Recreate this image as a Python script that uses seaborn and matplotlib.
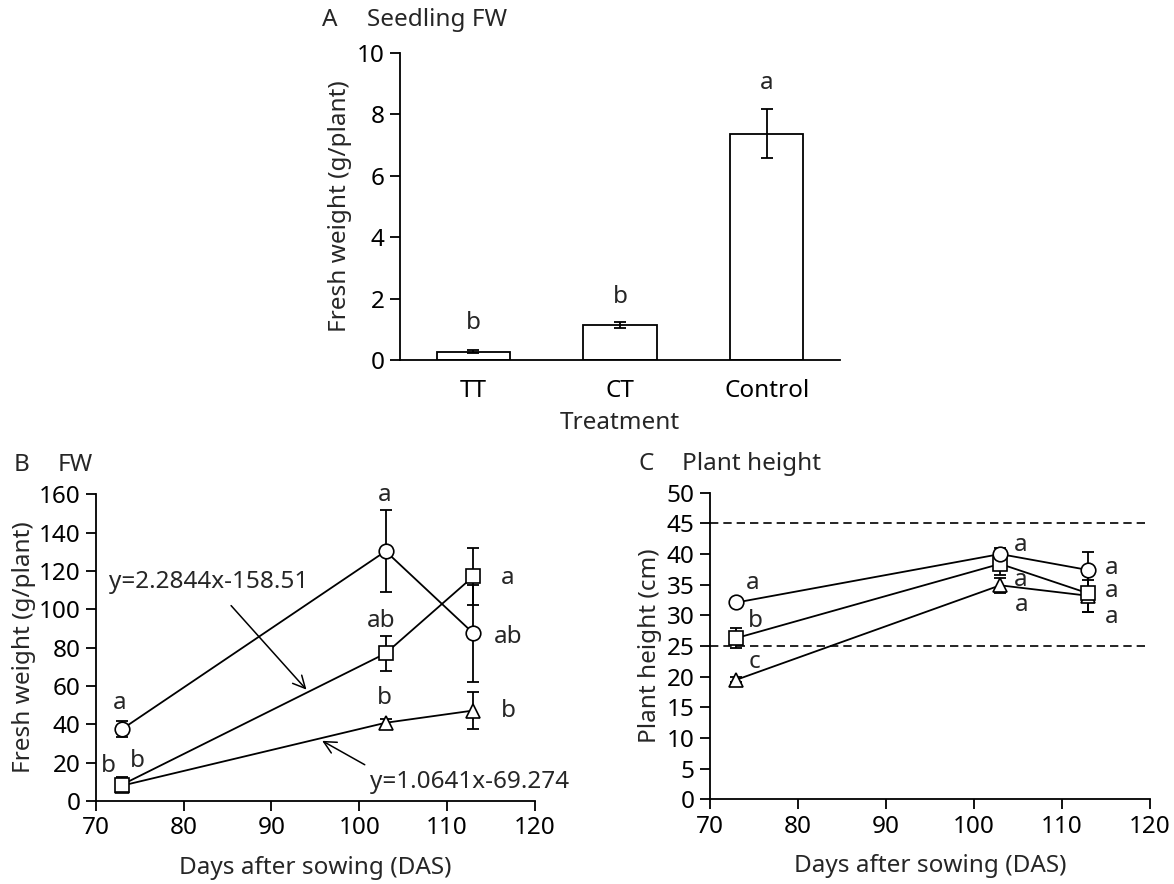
import seaborn as sns
import matplotlib.pyplot as plt
import numpy as np
import pandas as pd

# Panel A : seedling fresh weight
treatments = ['TT', 'CT', 'Control']
fw_seedling = [0.27, 1.14, 7.37]
fw_seedling_err = [0.04, 0.10, 0.80]
fw_seedling_letters = ['b', 'b', 'a']
fw_seedling_letter_y = [1.19, 2.06, 9.0]

# Panel B / C : three series over days after sowing
das = [73, 103, 113]
fw_circle = [37.5, 130.3, 87.4]
fw_circle_err = [4.0, 21.5, 25.5]
fw_square = [8.5, 77.0, 117.2]
fw_square_err = [4.0, 9.3, 15.0]
fw_triangle = [8.0, 40.8, 47.2]
fw_triangle_err = [2.0, 2.0, 9.5]

ht_circle = [32.1, 40.0, 37.4]
ht_circle_err = [0.5, 1.0, 2.9]
ht_square = [26.3, 38.4, 33.6]
ht_square_err = [1.7, 1.8, 3.0]
ht_triangle = [19.5, 34.9, 33.2]
ht_triangle_err = [0.4, 1.2, 2.6]

# lettres de significativité (x, y, texte)
fw_letters = [(72.7, 51, 'a'), (71.4, 18, 'b'), (74.7, 21, 'b'),
              (102.9, 159.5, 'a'), (102.5, 94, 'ab'), (102.9, 53.5, 'b'),
              (116.9, 116.5, 'a'), (117.0, 85.6, 'ab'), (117.0, 46.9, 'b')]
ht_letters = [(74.9, 35.2, 'a'), (75.2, 29.1, 'b'), (75.1, 22.4, 'c'),
              (105.3, 41.5, 'a'), (105.3, 35.8, 'a'), (105.4, 31.7, 'a'),
              (115.7, 37.8, 'a'), (115.7, 33.9, 'a'), (115.7, 29.8, 'a')]

sns.set_style('ticks')
plt.rcParams['font.family'] = ['Noto Sans', 'DejaVu Sans']
FS = 17.5
LW = 1.3

fig = plt.figure(figsize=(11.74, 8.84), dpi=100)
ax_a = fig.add_axes([0.3407, 0.5928, 0.3748, 0.3476])
ax_b = fig.add_axes([0.0815, 0.0939, 0.3742, 0.3470])
ax_c = fig.add_axes([0.6048, 0.0958, 0.3744, 0.3468])


def style_axes(ax):
    sns.despine(ax=ax)
    for s in ['left', 'bottom']:
        ax.spines[s].set_linewidth(LW)
        ax.spines[s].set_color('black')
    ax.tick_params(direction='out', length=7, width=LW, labelsize=FS,
                   colors='black', pad=4)


# ---- A
df_a = pd.DataFrame({'Treatment': treatments, 'FW': fw_seedling})
sns.barplot(data=df_a, x='Treatment', y='FW', color='white', saturation=1,
            edgecolor='black', linewidth=LW, width=0.5, errorbar=None, ax=ax_a)
ax_a.errorbar(np.arange(len(treatments)), fw_seedling, yerr=fw_seedling_err,
              fmt='none', ecolor='black', elinewidth=LW, capsize=4, capthick=LW)
for i, l in enumerate(fw_seedling_letters):
    ax_a.text(i, fw_seedling_letter_y[i], l, ha='center', va='center', fontsize=FS)
ax_a.set_xlim(-0.5, 2.5)
ax_a.set_ylim(0, 10)
ax_a.set_yticks([0, 2, 4, 6, 8, 10])
ax_a.set_xlabel('Treatment', fontsize=FS)
ax_a.set_ylabel('Fresh weight (g/plant)', fontsize=FS)
style_axes(ax_a)
ax_a.tick_params(axis='x', length=0, pad=14)
ax_a.xaxis.set_label_coords(0.5, -0.165)
ax_a.yaxis.set_label_coords(-0.109, 0.5)


def draw_series(ax, ys, errs):
    # triangle d'abord, cercle en dernier (au-dessus)
    markers = ['o', 's', '^']
    for y, e, m in list(zip(ys, errs, markers))[::-1]:
        ax.errorbar(das, y, yerr=e, fmt='none', ecolor='black', elinewidth=LW,
                    capsize=4, capthick=LW, zorder=2)
        sns.lineplot(x=das, y=y, marker=m, markersize=10.5, color='black',
                     markerfacecolor='white', markeredgecolor='black',
                     markeredgewidth=1.2, linewidth=LW, ax=ax, zorder=3)


# ---- B
draw_series(ax_b, [fw_circle, fw_square, fw_triangle],
            [fw_circle_err, fw_square_err, fw_triangle_err])
for x, y, t in fw_letters:
    ax_b.text(x, y, t, ha='center', va='center', fontsize=FS)
ax_b.text(82.9, 114.3, 'y=2.2844x-158.51', ha='center', va='center', fontsize=FS)
ax_b.text(112.5, 10, 'y=1.0641x-69.274', ha='center', va='center', fontsize=FS)
ax_b.annotate('', xy=(94.2, 57), xytext=(85.2, 103),
              arrowprops=dict(arrowstyle='->', color='black', lw=1.1,
                              mutation_scale=22))
ax_b.annotate('', xy=(95.5, 32.1), xytext=(100.9, 18.2),
              arrowprops=dict(arrowstyle='->', color='black', lw=1.1,
                              mutation_scale=22))
ax_b.set_xlim(70, 120)
ax_b.set_ylim(0, 160)
ax_b.set_xticks(range(70, 121, 10))
ax_b.set_yticks(range(0, 161, 20))
ax_b.set_xlabel('Days after sowing (DAS)', fontsize=FS)
ax_b.set_ylabel('Fresh weight (g/plant)', fontsize=FS)
style_axes(ax_b)
ax_b.xaxis.set_label_coords(0.5, -0.178)
ax_b.yaxis.set_label_coords(-0.1366, 0.5)

# ---- C
ax_c.axhline(45, color='black', lw=1.2, ls=(0, (5, 3)), zorder=1)
ax_c.axhline(25, color='black', lw=1.2, ls=(0, (5, 3)), zorder=1)
draw_series(ax_c, [ht_circle, ht_square, ht_triangle],
            [ht_circle_err, ht_square_err, ht_triangle_err])
for x, y, t in ht_letters:
    ax_c.text(x, y, t, ha='center', va='center', fontsize=FS)
ax_c.set_xlim(70, 120)
ax_c.set_ylim(0, 50)
ax_c.set_xticks(range(70, 121, 10))
ax_c.set_yticks(range(0, 51, 5))
ax_c.set_xlabel('Days after sowing (DAS)', fontsize=FS)
ax_c.set_ylabel('Plant height (cm)', fontsize=FS)
style_axes(ax_c)
ax_c.xaxis.set_label_coords(0.5, -0.178)
ax_c.yaxis.set_label_coords(-0.1085, 0.5)

# titres des panneaux
fig.text(321.7 / 1174, 1 - 20 / 884, 'A', ha='left', va='center', fontsize=FS)
fig.text(367.3 / 1174, 1 - 20 / 884, 'Seedling FW', ha='left', va='center', fontsize=FS)
fig.text(13.4 / 1174, 1 - 465 / 884, 'B', ha='left', va='center', fontsize=FS)
fig.text(57.4 / 1174, 1 - 465 / 884, 'FW', ha='left', va='center', fontsize=FS)
fig.text(638.4 / 1174, 1 - 464 / 884, 'C', ha='left', va='center', fontsize=FS)
fig.text(682.2 / 1174, 1 - 464 / 884, 'Plant height', ha='left', va='center', fontsize=FS)

fig.savefig('out.png', dpi=100, facecolor='white')
